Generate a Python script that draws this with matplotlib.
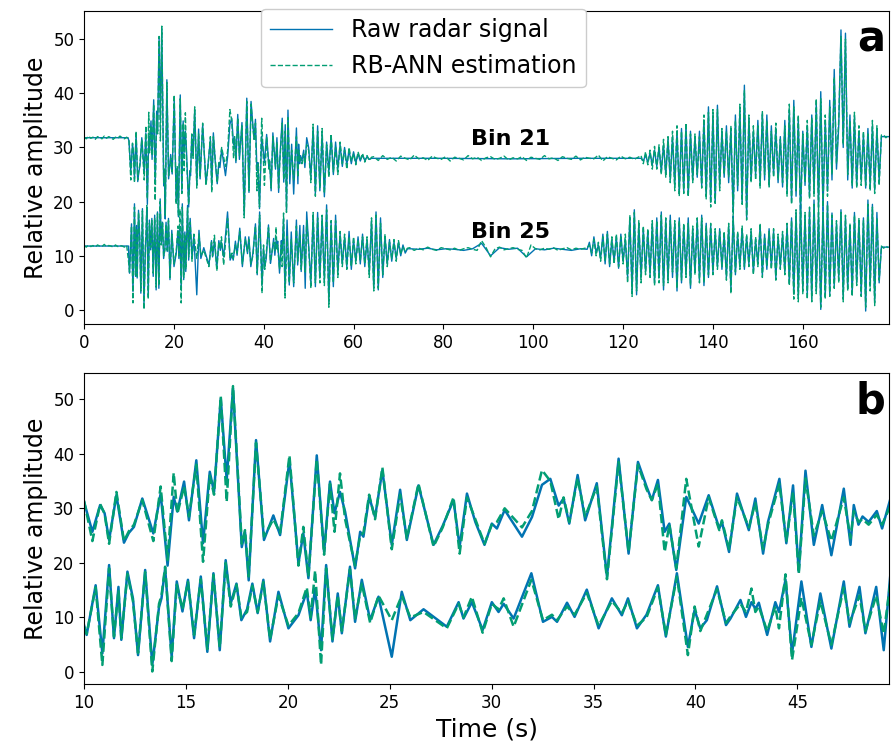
import numpy as np
import matplotlib
matplotlib.use('Agg')
import matplotlib.pyplot as plt

BLUE = '#0173B2'
GREEN = '#029E73'

# ---- 10-50 s segment (shown in panel b and inside panel a) ----
t21 = [10.0, 10.41, 10.79, 11.01, 11.23, 11.59, 11.96, 12.2, 12.45, 12.86, 13.4, 13.76, 14.1, 14.4,
       14.58, 14.91, 15.15, 15.51, 15.84, 16.17, 16.38, 16.71, 17.0, 17.31, 17.74, 17.9, 18.08, 18.44,
       18.83, 19.29, 19.62, 20.08, 20.52, 20.76, 21.01, 21.42, 21.78, 22.07, 22.29, 22.56, 22.81, 23.3,
       23.55, 23.71, 23.99, 24.28, 24.64, 25.1, 25.51, 25.84, 26.41, 27.15, 27.6, 28.13, 28.43, 28.79,
       29.2, 29.65, 30.01, 30.26, 30.64, 31.49, 31.98, 32.47, 32.88, 33.29, 33.53, 33.81, 34.22, 34.59,
       35.16, 35.66, 36.23, 36.72, 37.18, 37.6, 37.86, 38.16, 38.49, 38.72, 39.06, 39.55, 40.16, 40.65,
       41.17, 41.3, 41.65, 42.04, 42.62, 42.94, 43.32, 43.56, 44.12, 44.46, 44.79, 45.07, 45.4, 45.81,
       46.22, 46.67, 47.28, 47.61, 47.77, 48.0, 48.2, 48.5, 48.9, 49.16, 49.57]
raw21 = [31.2, 25.7, 30.6, 29.1, 24.2, 32.4, 23.7, 25.5, 26.6, 31.8, 25.4, 32.7, 19.5, 32.1,
         29.4, 34.9, 27.8, 38.8, 23.6, 36.7, 33.0, 50.1, 35.2, 52.0, 22.9, 25.7, 16.8, 42.5,
         24.2, 28.7, 25.1, 38.8, 19.9, 25.4, 17.2, 39.7, 22.0, 34.9, 29.1, 33.0, 29.4, 19.0,
         25.7, 24.8, 32.1, 28.4, 37.0, 23.3, 33.4, 24.2, 34.2, 23.3, 26.8, 31.5, 23.0, 32.7,
         27.5, 23.3, 27.2, 26.3, 29.7, 24.8, 28.4, 34.3, 35.4, 30.5, 31.8, 27.2, 36.1, 27.8,
         34.6, 17.5, 39.1, 21.7, 38.5, 34.0, 31.5, 35.2, 25.7, 27.2, 18.7, 32.1, 27.2, 32.4,
         26.3, 27.5, 22.0, 32.7, 26.0, 31.8, 21.7, 27.5, 35.4, 23.6, 34.2, 18.4, 36.9, 23.3,
         30.6, 21.4, 33.6, 23.3, 30.6, 27.0, 28.5, 27.5, 29.5, 26.3, 31.8]
est21 = [31.4, 24.0, 30.8, 29.0, 23.5, 33.0, 24.0, 25.8, 27.0, 31.5, 24.0, 34.0, 20.5, 36.5,
         29.0, 34.0, 28.5, 38.0, 20.2, 36.0, 32.5, 50.5, 31.2, 52.4, 23.5, 26.0, 17.5, 42.0,
         24.8, 28.0, 25.5, 39.7, 19.5, 26.6, 17.5, 39.0, 21.5, 34.5, 25.7, 36.4, 28.0, 19.5,
         25.0, 25.5, 32.5, 28.0, 37.5, 22.5, 32.5, 24.5, 34.5, 23.0, 26.5, 32.0, 21.7, 32.0,
         28.0, 23.5, 27.0, 27.5, 30.0, 26.5, 29.5, 37.0, 35.0, 28.0, 32.0, 27.5, 35.5, 28.5,
         34.0, 17.0, 38.5, 22.0, 38.0, 33.5, 31.5, 34.5, 22.0, 27.0, 19.0, 35.4, 23.0, 32.0,
         26.0, 27.8, 22.5, 32.0, 26.5, 31.0, 22.5, 27.0, 34.5, 24.0, 33.0, 18.0, 35.5, 25.0,
         29.5, 24.0, 32.0, 24.5, 29.5, 27.5, 28.0, 27.0, 28.8, 27.0, 30.5]

t25 = [10.0, 10.13, 10.57, 10.9, 11.23, 11.47, 11.69, 11.83, 12.13, 12.4, 12.65, 13.0, 13.35, 13.68,
       13.8, 13.98, 14.3, 14.55, 14.83, 15.1, 15.4, 15.73, 16.05, 16.35, 16.66, 16.95, 17.2, 17.48,
       17.72, 18.0, 18.26, 18.52, 18.8, 19.13, 19.54, 20.03, 20.52, 20.93, 21.12, 21.34, 21.63, 21.88,
       22.19, 22.45, 22.65, 23.05, 23.3, 23.63, 24.04, 24.45, 25.1, 25.59, 26.01, 26.66, 27.8, 28.38,
       28.62, 29.03, 29.56, 30.01, 30.34, 30.59, 31.08, 31.95, 32.52, 32.96, 33.21, 33.7, 34.07, 34.67,
       35.25, 35.9, 36.39, 36.69, 37.13, 37.6, 38.16, 38.55, 39.09, 39.63, 39.96, 40.24, 40.56, 41.06,
       41.5, 41.72, 42.21, 42.48, 42.75, 42.94, 43.11, 43.52, 43.92, 44.1, 44.42, 44.74, 45.2, 45.69,
       46.13, 46.67, 47.28, 47.56, 48.05, 48.34, 48.87, 49.24, 49.57]
raw25 = [8.6, 6.8, 15.9, 3.4, 19.6, 6.2, 15.6, 5.9, 18.4, 13.5, 3.1, 18.7, 1.3, 11.9,
         13.5, 19.0, 2.8, 16.6, 11.1, 16.9, 6.2, 17.5, 3.7, 18.1, 4.0, 20.5, 12.6, 16.2,
         9.5, 11.5, 16.2, 10.8, 16.9, 5.6, 14.7, 8.0, 10.4, 14.7, 9.5, 15.3, 4.0, 19.6,
         5.6, 14.4, 7.1, 19.3, 9.2, 16.9, 9.5, 13.8, 2.8, 14.7, 9.5, 11.5, 8.3, 12.8,
         9.8, 12.8, 7.7, 12.8, 11.0, 12.5, 9.8, 18.1, 9.2, 10.1, 9.2, 12.7, 10.1, 15.1,
         8.0, 13.5, 10.4, 13.5, 8.0, 10.5, 15.9, 6.5, 18.1, 4.6, 11.4, 8.0, 9.5, 15.7,
         8.6, 9.8, 13.2, 10.1, 12.8, 11.6, 12.7, 6.8, 12.8, 11.0, 16.9, 3.4, 16.6, 4.6,
         14.4, 4.3, 16.6, 8.3, 15.6, 7.1, 15.6, 4.0, 18.1]
est25 = [8.3, 7.0, 15.5, 1.3, 19.0, 6.5, 15.0, 6.2, 18.0, 13.0, 3.5, 18.3, 0.1, 12.5,
         14.0, 19.3, 2.0, 16.0, 11.5, 16.5, 6.8, 17.0, 4.2, 17.8, 4.5, 20.0, 12.0, 16.0,
         10.0, 11.0, 15.8, 11.0, 16.5, 6.0, 14.0, 8.5, 10.8, 15.5, 10.0, 18.6, 1.3, 19.0,
         6.0, 14.0, 7.5, 18.8, 9.8, 16.2, 9.0, 14.0, 9.5, 14.0, 10.0, 11.0, 8.0, 12.5,
         10.0, 13.8, 7.2, 12.5, 11.5, 13.5, 8.3, 16.9, 9.5, 10.5, 9.5, 12.0, 10.5, 14.5,
         8.5, 13.0, 10.8, 13.0, 8.5, 10.0, 15.5, 6.8, 17.5, 3.1, 12.0, 7.5, 10.5, 15.2,
         9.0, 10.2, 12.5, 11.0, 15.3, 11.0, 12.0, 7.5, 12.0, 8.0, 17.9, 2.2, 13.6, 5.0,
         13.0, 5.0, 15.5, 9.0, 14.0, 7.5, 14.0, 7.0, 16.5]

# ---- rest of the recording (panel a only) ----
# before the subject moves: 0-10 s, estimation sampled every 0.5 s
est21_head = [31.9, 31.6, 32.1, 31.7, 31.9, 31.5, 32.0, 31.8, 31.6, 32.1,
              31.7, 32.0, 31.8, 31.5, 31.9, 31.7, 32.1, 31.8, 31.6, 31.9]
est25_head = [11.9, 11.6, 12.0, 11.7, 11.9, 11.6, 12.0, 11.8, 11.7, 12.1,
              11.7, 11.9, 11.8, 11.6, 12.0, 11.7, 11.9, 11.8, 11.6, 11.9]

# bin 21, 50-64 s every 0.5 s
raw21_a = [30.0, 24.5, 33.5, 21.5, 34.0, 22.0, 32.5, 20.9, 31.0, 25.5,
           32.0, 25.0, 31.0, 26.0, 30.5, 26.5, 30.0, 26.8, 29.5, 27.0,
           29.2, 27.2, 28.8, 27.5, 28.6, 27.6, 28.3, 27.8, 28.0]
est21_a = [29.5, 23.5, 34.3, 21.0, 33.0, 22.5, 33.5, 21.5, 30.5, 24.5,
           32.5, 25.5, 30.0, 25.0, 31.0, 27.0, 29.5, 26.0, 30.0, 27.5,
           28.8, 26.8, 29.2, 27.8, 28.9, 27.3, 28.5, 27.6, 28.2]
# bin 21 quiet stretch
flat21_t = [64.5, 80.0, 95.0, 110.0, 123.5]
raw21_flat = [28.0, 28.0, 27.9, 28.0, 28.0]
est21_flat = [28.3, 27.6, 28.5, 27.8, 28.2, 27.5, 28.4, 28.0, 27.7, 28.6,
              27.9, 28.1, 27.6, 28.4, 28.0, 27.8, 28.3, 27.5, 28.2, 28.0,
              27.7, 28.5, 27.9, 28.2, 27.6, 28.1, 28.3, 27.8, 28.0, 28.4,
              27.7, 28.1, 27.9, 28.3, 27.6, 28.2, 28.0, 27.8, 28.5, 27.9,
              28.1, 27.6, 28.3, 28.0, 27.8, 28.4, 27.7, 28.2, 28.0, 27.9,
              28.6, 27.5, 28.3, 28.0, 27.7, 28.4, 27.9, 28.2, 27.8]
# bin 21, 124-177.5 s every 0.5 s
raw21_b = [28.0, 27.5, 28.6, 27.2, 29.0, 26.8, 29.5, 26.5, 30.0, 25.5,
           30.5, 25.0, 31.5, 24.0, 32.0, 23.0, 33.0, 21.5, 33.5, 22.0,
           34.1, 21.2, 33.0, 24.0, 32.0, 24.5, 33.0, 23.0, 35.0, 21.0,
           37.5, 19.9, 36.0, 19.7, 37.8, 23.0, 33.0, 24.5, 34.0, 23.5,
           33.5, 18.0, 36.0, 22.0, 37.0, 20.0, 41.5, 17.0, 35.5, 24.0,
           33.0, 25.0, 35.0, 23.5, 36.3, 24.0, 36.0, 23.0, 34.0, 25.0,
           33.5, 23.5, 32.0, 22.7, 35.0, 22.0, 37.0, 20.0, 38.7, 21.0,
           35.0, 17.8, 33.0, 23.0, 34.0, 21.0, 36.0, 22.0, 38.0, 19.0,
           40.3, 18.4, 35.0, 22.0, 38.7, 24.0, 44.4, 26.0, 34.0, 51.7,
           30.0, 51.1, 24.0, 36.0, 22.5, 35.7, 23.1, 33.0, 24.0, 32.4,
           22.5, 33.5, 23.0, 34.0, 22.2, 33.5, 24.0, 32.0]
est21_b = [28.5, 27.0, 29.2, 26.8, 29.5, 26.0, 30.2, 26.0, 30.5, 25.0,
           31.5, 24.5, 32.0, 23.5, 33.0, 22.0, 34.0, 21.0, 33.0, 21.5,
           34.5, 20.9, 32.5, 23.5, 32.5, 25.0, 32.0, 22.5, 36.0, 20.5,
           36.5, 19.0, 37.0, 19.7, 37.0, 22.0, 33.5, 25.0, 33.0, 24.5,
           34.0, 17.0, 35.0, 23.0, 38.0, 19.5, 40.5, 16.6, 36.0, 23.5,
           34.0, 24.0, 34.0, 22.5, 36.6, 25.0, 35.0, 22.7, 33.0, 24.5,
           34.5, 24.0, 31.5, 23.5, 34.0, 21.0, 38.0, 19.5, 37.5, 22.0,
           36.0, 17.0, 32.5, 23.5, 35.0, 20.5, 35.5, 21.0, 39.0, 18.5,
           39.0, 19.0, 36.0, 21.0, 37.5, 25.0, 43.0, 27.0, 35.0, 50.5,
           30.5, 50.0, 25.0, 35.0, 23.0, 36.5, 22.5, 34.0, 23.0, 33.0,
           23.0, 32.5, 22.0, 35.0, 21.5, 34.0, 23.0, 32.3]
est21_end = [32.3, 31.8, 32.2]

# bin 25, 50-72 s every 0.5 s
raw25_a = [12.0, 5.0, 17.5, 4.3, 18.0, 6.0, 17.0, 5.5, 19.4, 1.5,
           16.0, 4.3, 17.5, 7.0, 14.0, 8.5, 13.5, 8.0, 14.5, 7.5,
           13.0, 9.0, 13.5, 8.5, 14.0, 8.0, 13.0, 7.0, 16.5, 4.0,
           18.1, 3.7, 17.0, 6.0, 13.5, 8.5, 13.0, 9.0, 12.5, 9.5,
           12.5, 10.0, 12.0, 10.5, 11.3]
est25_a = [11.5, 4.0, 18.0, 5.0, 17.0, 5.0, 17.5, 4.5, 18.5, 0.5,
           16.5, 5.0, 16.5, 6.0, 14.5, 8.0, 14.0, 7.5, 13.5, 8.0,
           13.5, 8.5, 13.0, 9.0, 13.5, 8.5, 13.5, 6.0, 17.0, 3.5,
           17.5, 4.0, 16.0, 6.5, 14.0, 8.0, 12.5, 9.5, 13.0, 9.0,
           12.8, 10.3, 11.7, 10.8, 11.4]
# bin 25 quiet stretch: raw every 2 s, estimation every 1 s from 72.5 s
raw25_flat = [11.3, 11.2, 11.4, 11.1, 11.3, 11.2, 11.0, 11.3, 12.3, 10.0,
              11.5, 11.2, 11.4, 9.8, 11.3, 11.1, 11.4, 11.2, 11.0, 11.3]
est25_flat = [11.5, 11.0, 11.4, 11.1, 11.6, 11.2, 11.0, 11.5, 11.3, 11.1,
              11.4, 11.0, 11.3, 11.5, 11.2, 11.0, 12.8, 11.5, 9.8, 11.3,
              11.6, 11.1, 11.3, 11.5, 11.2, 11.0, 9.6, 12.0, 11.3, 11.1,
              11.4, 11.2, 11.5, 11.0, 11.3, 11.5, 11.1, 11.4, 11.2]
# bin 25, 112-177.5 s every 0.5 s
raw25_b = [11.2, 12.5, 10.0, 13.5, 10.5, 12.0, 9.5, 14.0, 8.5, 14.5,
           8.0, 13.0, 9.0, 13.5, 7.7, 14.0, 9.0, 13.0, 6.0, 17.0,
           3.5, 18.5, 2.8, 16.0, 6.0, 15.0, 7.0, 14.5, 6.5, 16.0,
           5.0, 17.0, 6.0, 18.1, 3.7, 16.5, 5.5, 17.5, 6.0, 16.0,
           3.5, 17.0, 5.0, 15.5, 6.5, 17.0, 4.0, 15.0, 7.0, 16.5,
           5.5, 17.5, 4.5, 16.0, 6.0, 15.5, 7.0, 14.5, 8.0, 15.0,
           7.5, 14.0, 6.0, 15.5, 3.9, 17.3, 6.5, 14.0, 8.0, 15.0,
           7.5, 13.5, 8.5, 14.5, 7.0, 13.0, 8.5, 15.5, 6.5, 14.0,
           7.5, 15.0, 8.0, 14.5, 6.0, 13.5, 8.0, 14.0, 7.0, 15.5,
           5.0, 17.0, 3.0, 18.0, 2.5, 19.3, 4.0, 17.5, 3.0, 18.5,
           2.0, 20.3, 3.5, 18.0, 0.1, 19.0, 2.5, 20.0, 3.0, 17.9,
           4.5, 16.0, 6.0, 18.5, 2.5, 17.0, 4.0, 15.5, 3.0, 18.0,
           5.0, 16.5, 3.0, 17.0, -0.2, 20.3, 4.5, 19.5, 1.6, 18.0,
           5.0, 11.6]
est25_b = [11.5, 12.0, 10.5, 13.0, 10.0, 12.5, 9.0, 13.5, 9.0, 14.0,
           8.5, 13.5, 8.5, 14.0, 8.0, 13.5, 8.5, 14.0, 5.0, 17.5,
           2.5, 18.0, 3.5, 16.5, 5.0, 15.5, 6.5, 15.0, 6.0, 16.5,
           4.5, 16.5, 5.0, 17.5, 4.5, 17.0, 5.0, 16.5, 7.0, 16.5,
           4.0, 16.5, 5.5, 16.0, 6.0, 16.0, 4.5, 15.5, 6.5, 17.0,
           5.0, 17.0, 5.0, 15.5, 6.5, 16.0, 6.5, 15.0, 7.5, 14.5,
           8.0, 14.5, 5.5, 16.0, 3.0, 17.0, 7.0, 14.5, 7.5, 15.5,
           8.0, 14.0, 8.0, 15.0, 6.5, 13.5, 8.0, 16.0, 6.0, 13.5,
           8.0, 14.5, 7.5, 15.0, 5.5, 14.0, 7.5, 14.5, 6.5, 16.0,
           4.5, 16.5, 2.0, 18.5, 1.5, 18.5, 3.0, 18.0, 2.0, 19.0,
           1.5, 19.5, 3.0, 18.5, 0.5, 18.0, 2.0, 19.5, 2.5, 17.5,
           4.0, 16.5, 5.0, 18.0, 1.5, 17.5, 3.5, 16.0, 2.5, 17.5,
           4.5, 17.0, 2.5, 16.5, 0.5, 19.5, 3.5, 19.0, 0.8, 17.0,
           5.5, 11.8]
est25_end = [11.4, 11.8, 11.5]


def grid(start, step, values):
    return start + step * np.arange(len(values))


def join(*parts):
    t = np.concatenate([np.asarray(p[0], float) for p in parts])
    v = np.concatenate([np.asarray(p[1], float) for p in parts])
    return t, v


# full recordings for panel a
ta21_raw, va21_raw = join(([0.0, 9.8], [31.8, 31.8]), (t21, raw21),
                          (grid(50.0, 0.5, raw21_a), raw21_a), (flat21_t, raw21_flat),
                          (grid(124.0, 0.5, raw21_b), raw21_b), ([178.0, 179.3], [32.0, 32.0]))
ta21_est, va21_est = join((grid(0.0, 0.5, est21_head), est21_head), (t21, est21),
                          (grid(50.0, 0.5, est21_a), est21_a), (grid(64.5, 1.0, est21_flat), est21_flat),
                          (grid(124.0, 0.5, est21_b), est21_b), (grid(178.0, 0.5, est21_end), est21_end))
ta25_raw, va25_raw = join(([0.0, 9.9], [11.8, 11.8]), (t25, raw25),
                          (grid(50.0, 0.5, raw25_a), raw25_a), (grid(72.5, 2.0, raw25_flat), raw25_flat),
                          (grid(112.0, 0.5, raw25_b), raw25_b), ([178.0, 179.3], [11.6, 11.6]))
ta25_est, va25_est = join((grid(0.0, 0.5, est25_head), est25_head), (t25, est25),
                          (grid(50.0, 0.5, est25_a), est25_a), (grid(72.5, 1.0, est25_flat), est25_flat),
                          (grid(112.0, 0.5, est25_b), est25_b), (grid(178.0, 0.5, est25_end), est25_end))

fig = plt.figure(figsize=(8.91, 7.52), dpi=100)
ax1 = fig.add_axes([0.0943, 0.5691, 0.9035, 0.4163])
ax2 = fig.add_axes([0.0943, 0.0904, 0.9035, 0.4136])

# panel a: whole recording
l_raw, = ax1.plot(ta21_raw, va21_raw, color=BLUE, lw=1.0, label='Raw radar signal')
l_est, = ax1.plot(ta21_est, va21_est, color=GREEN, lw=1.0, ls='--', label='RB-ANN estimation')
ax1.plot(ta25_raw, va25_raw, color=BLUE, lw=1.0)
ax1.plot(ta25_est, va25_est, color=GREEN, lw=1.0, ls='--')
ax1.set_xlim(0, 179.2)
ax1.set_ylim(-2.6, 55.2)
ax1.set_xticks(np.arange(0, 161, 20))
ax1.set_yticks(np.arange(0, 51, 10))
ax1.set_ylabel('Relative amplitude', fontsize=17)
ax1.text(95, 31.6, 'Bin 21', ha='center', va='center', fontsize=16, fontweight='bold')
ax1.text(95, 14.4, 'Bin 25', ha='center', va='center', fontsize=16, fontweight='bold')
ax1.text(0.995, 0.975, 'a', transform=ax1.transAxes, ha='right', va='top',
         fontsize=30, fontweight='bold')
leg = ax1.legend(handles=[l_raw, l_est], loc='upper left', bbox_to_anchor=(0.205, 1.045),
                 fontsize=17, handlelength=2.6, framealpha=1.0)
leg.set_zorder(5)

# panel b: zoom on 10-50 s
for tt, raw, est in ((t21, raw21, est21), (t25, raw25, est25)):
    ax2.plot(tt, raw, color=BLUE, lw=1.8, solid_joinstyle='round')
    ax2.plot(tt, est, color=GREEN, lw=1.8, ls='--', dash_joinstyle='round')
ax2.set_xlim(10, 49.5)
ax2.set_ylim(-2.2, 54.8)
ax2.set_xticks(np.arange(10, 46, 5))
ax2.set_yticks(np.arange(0, 51, 10))
ax2.set_ylabel('Relative amplitude', fontsize=17)
ax2.set_xlabel('Time (s)', fontsize=18)
ax2.text(0.995, 0.975, 'b', transform=ax2.transAxes, ha='right', va='top',
         fontsize=30, fontweight='bold')

for ax in (ax1, ax2):
    ax.tick_params(labelsize=12)

fig.savefig('out.png', dpi=100)
